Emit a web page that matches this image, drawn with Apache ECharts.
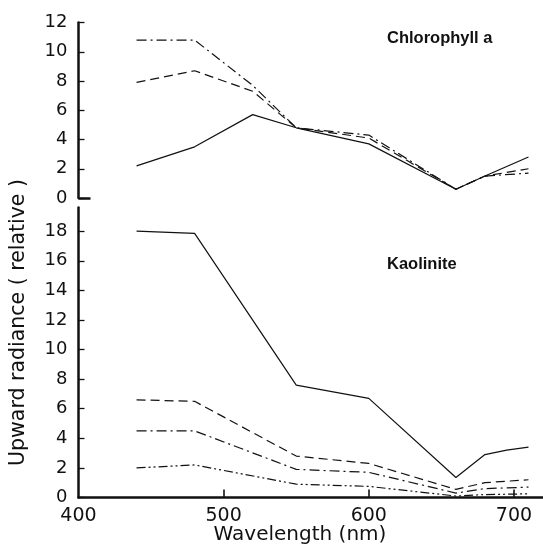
<!DOCTYPE html>
<html>
<head>
<meta charset="utf-8">
<script src="https://cdn.jsdelivr.net/npm/echarts@6/dist/echarts.min.js"></script>
<style>
html,body{margin:0;padding:0;background:#fff;}
#chart{width:543px;height:545px;}
</style>
</head>
<body>
<div id="chart"></div>
<script>
// Top panel: Chlorophyll a
const topWavelength = [440, 480, 520, 550, 600, 660, 680, 710];
const chlSolid   = [2.2, 3.5, 5.7, 4.8, 3.7, 0.6, 1.5, 2.8];
const chlDashed  = [7.9, 8.7, 7.3, 4.8, 4.1, 0.6, 1.5, 2.0];
const chlDashDot = [10.8, 10.8, 7.7, 4.8, 4.3, 0.6, 1.5, 1.7];

// Bottom panel: Kaolinite
const botWavelength = [440, 480, 550, 600, 660, 680, 695, 710];
const kaoSolid      = [18.0, 17.85, 7.6, 6.7, 1.35, 2.9, 3.2, 3.4];
const kaoDashed     = [6.6, 6.5, 2.8, 2.3, 0.55, 1.0, 1.1, 1.2];
const kaoDashDot    = [4.5, 4.5, 1.9, 1.7, 0.3, 0.6, 0.65, 0.7];
const kaoDashDotDot = [2.0, 2.2, 0.9, 0.75, 0.1, 0.2, 0.22, 0.25];

// Axis ticks / labels
const xTickLabels = [400, 500, 600, 700];
const xTickMarks = [500, 600, 700];
const topYTicks = [0, 2, 4, 6, 8, 10, 12];
const botYTicks = [0, 2, 4, 6, 8, 10, 12, 14, 16, 18];

const pairs = (xs, ys) => xs.map((x, i) => [x, ys[i]]);
const ink = '#111';
const font = 'DejaVu Sans';

const chart = echarts.init(document.getElementById('chart'), null, {renderer: 'canvas'});

function line(name, xi, yi, xs, ys, dash) {
  return {
    name, type: 'line', xAxisIndex: xi, yAxisIndex: yi,
    data: pairs(xs, ys), symbol: 'none', silent: true, animation: false,
    lineStyle: {color: ink, width: 1.2, type: dash}
  };
}

function yAxis(grid, max, ticks) {
  return {
    type: 'value', gridIndex: grid, position: 'left', min: 0, max: max, interval: 2,
    axisLine: {show: true, lineStyle: {color: ink, width: 2.5}},
    axisTick: {show: true, inside: true, length: 6, customValues: ticks,
               lineStyle: {color: ink, width: 1.3}},
    axisLabel: {color: ink, fontFamily: font, fontSize: 18, margin: 11, customValues: ticks},
    splitLine: {show: false}
  };
}

chart.setOption({
  animation: false,
  backgroundColor: '#fff',
  grid: [
    {left: 78.5, right: 0, top: 22.5, bottom: 347},
    {left: 78.5, right: 0, top: 207.5, bottom: 47.5}
  ],
  xAxis: [
    {gridIndex: 0, type: 'value', min: 400, max: 720, show: false},
    {gridIndex: 1, type: 'value', min: 400, max: 720, interval: 100,
     axisLine: {show: true, onZero: false, lineStyle: {color: ink, width: 2.5}},
     axisTick: {show: true, inside: true, length: 8, customValues: xTickMarks,
                lineStyle: {color: ink, width: 1.6}},
     axisLabel: {color: ink, fontFamily: font, fontSize: 19, margin: 9,
                 customValues: xTickLabels},
     splitLine: {show: false}
    }
  ],
  yAxis: [
    yAxis(0, 12, topYTicks),
    yAxis(1, 19.6, botYTicks),
    // heavy foot of the upper axis at zero
    {type: 'value', gridIndex: 0, position: 'left', offset: 0, min: 0, max: 12, interval: 2,
     axisLine: {show: true, lineStyle: {color: ink, width: 2.5, opacity: 0}},
     axisTick: {show: true, inside: true, length: 12, interval: 0,
                customValues: [0], lineStyle: {color: ink, width: 2.5}},
     axisLabel: {show: true, color: 'rgba(0,0,0,0)', customValues: [0]},
     splitLine: {show: false}}
  ],
  graphic: [
    {type: 'text', left: 387, top: 30,
     style: {text: 'Chlorophyll a', fill: ink, font: 'bold 16.5px "Liberation Sans", Arial, sans-serif'}},
    {type: 'text', left: 387, top: 256,
     style: {text: 'Kaolinite', fill: ink, font: 'bold 16.5px "Liberation Sans", Arial, sans-serif'}},
    {type: 'text', left: 8, top: 179, rotation: Math.PI / 2,
     style: {text: 'Upward radiance ( relative )', fill: ink, font: '20.5px "DejaVu Sans"'}},
    {type: 'text', x: 300, y: 525,
     style: {text: 'Wavelength (nm)', fill: ink, font: '20px "DejaVu Sans"',
             align: 'center', verticalAlign: 'top'}}
  ],
  series: [
    line('Chl solid', 0, 0, topWavelength, chlSolid, 'solid'),
    line('Chl dashed', 0, 0, topWavelength, chlDashed, [9, 5]),
    line('Chl dashdot', 0, 0, topWavelength, chlDashDot, [10, 4, 2, 4]),
    line('Kao solid', 1, 1, botWavelength, kaoSolid, 'solid'),
    line('Kao dashed', 1, 1, botWavelength, kaoDashed, [9, 5]),
    line('Kao dashdot', 1, 1, botWavelength, kaoDashDot, [10, 4, 2, 4]),
    line('Kao dashdotdot', 1, 1, botWavelength, kaoDashDotDot, [9, 3, 2, 3, 2, 3])
  ]
});
</script>
</body>
</html>
